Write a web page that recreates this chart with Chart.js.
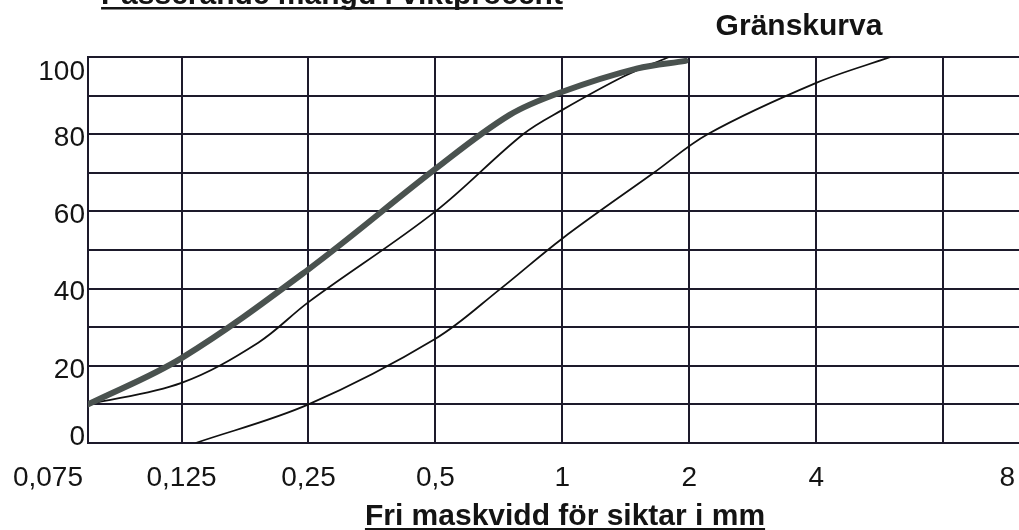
<!DOCTYPE html>
<html>
<head>
<meta charset="utf-8">
<script src="https://cdn.jsdelivr.net/npm/chart.js@4/dist/chart.umd.min.js"></script>
<style>
    body { margin: 0; background: #fff; }
    #wrap { width: 1019px; height: 530px; position: relative; }
</style>
</head>
<body>
<div id="wrap"><canvas id="myChart"></canvas></div>
<script>
// siktar (mm) och etiketter
var sieves = [0.075, 0.125, 0.25, 0.5, 1, 2, 4, 8];
var sieveLabels = ['0,075', '0,125', '0,25', '0,5', '1', '2', '4', '8'];
var percentTicks = [0, 20, 40, 60, 80, 100];

// tjock kurva - materialets siktkurva
var materialSize = [0.075, 0.125, 0.25, 0.5, 0.75, 1, 1.5, 1.96];
var materialPass = [10, 22, 45, 71, 85, 91, 97, 99];

// gränskurvor
var upperSize = [0.075, 0.125, 0.19, 0.25, 0.5, 0.807, 1, 1.4, 1.79];
var upperPass = [10, 15.6, 26, 36.5, 60, 80, 86.3, 95, 100];

var lowerSize = [0.135, 0.25, 0.5, 0.714, 1, 1.647, 2.21, 4, 6];
var lowerPass = [0, 10, 27, 40, 53, 70, 80, 93.3, 100];

var gridColor = '#1d1a2b';
var textColor = '#141414';
var tickFont = '28px "Liberation Sans", Arial, sans-serif';
var boldFont = 'bold 30px "Liberation Sans", Arial, sans-serif';

function points(sizes, pass) {
    return sizes.map(function (s, i) { return { x: s, y: pass[i] }; });
}

function underlined(ctx, text, x, y) {
    ctx.textAlign = 'center';
    ctx.fillText(text, x, y);
    var w = ctx.measureText(text).width;
    ctx.fillRect(x - w / 2, y + 3, w, 2.5);
}

var textPlugin = {
    id: 'texter',
    afterDraw: function (chart) {
        var ctx = chart.ctx;
        var area = chart.chartArea;
        var xs = chart.scales.x;
        var ys = chart.scales.y;
        ctx.save();
        ctx.fillStyle = textColor;

        // y-etiketter
        ctx.font = tickFont;
        ctx.textAlign = 'right';
        ctx.textBaseline = 'middle';
        percentTicks.forEach(function (v) {
            var y = ys.getPixelForValue(v) + 4;
            y = Math.min(Math.max(y, area.top + 15), area.bottom - 6);
            ctx.fillText(String(v), area.left - 3, y);
        });

        // x-etiketter
        ctx.textBaseline = 'alphabetic';
        sieves.forEach(function (v, i) {
            var x = xs.getPixelForValue(v);
            if (i === 0) {
                ctx.textAlign = 'right';
                x = area.left - 5;
            } else if (i === sieves.length - 1) {
                ctx.textAlign = 'right';
                x = area.right - 4;
            } else {
                ctx.textAlign = 'center';
            }
            ctx.fillText(sieveLabels[i], x, area.bottom + 43);
        });

        // rubriker
        ctx.font = boldFont;
        underlined(ctx, 'Passerande mängd i viktprocent', 332, 4);
        ctx.textAlign = 'center';
        ctx.fillText('Gränskurva', 799, 35);
        underlined(ctx, 'Fri maskvidd för siktar i mm', 565, 525);
        ctx.restore();
    }
};

var ctx = document.getElementById('myChart');

var data = {
    datasets: [
        {
            label: 'Material',
            data: points(materialSize, materialPass),
            borderColor: '#4a524f',
            borderWidth: 6,
            pointRadius: 0,
            tension: 0.35,
            borderCapStyle: 'round'
        },
        {
            label: 'Gränskurva övre',
            data: points(upperSize, upperPass),
            borderColor: '#111111',
            borderWidth: 1.8,
            pointRadius: 0,
            tension: 0.35
        },
        {
            label: 'Gränskurva undre',
            data: points(lowerSize, lowerPass),
            borderColor: '#111111',
            borderWidth: 1.8,
            pointRadius: 0,
            tension: 0.35
        }
    ]
};

var config = {
    type: 'line',
    data: data,
    options: {
        responsive: true,
        maintainAspectRatio: false,
        animation: false,
        layout: { padding: { left: 88, right: 0, top: 57, bottom: 87 } },
        plugins: {
            legend: { display: false },
            tooltip: { enabled: false }
        },
        scales: {
            x: {
                type: 'logarithmic',
                min: 0.075,
                max: 12.1,
                afterBuildTicks: function (axis) {
                    axis.ticks = sieves.map(function (v) { return { value: v }; });
                },
                ticks: { display: false },
                grid: { color: gridColor, lineWidth: 2, drawTicks: false },
                border: { display: true, color: gridColor, width: 2 }
            },
            y: {
                min: 0,
                max: 100,
                ticks: { display: false, stepSize: 10 },
                grid: { color: gridColor, lineWidth: 2, drawTicks: false },
                border: { display: true, color: gridColor, width: 2 }
            }
        }
    },
    plugins: [textPlugin]
};

var myChart = new Chart(ctx, config);
</script>
</body>
</html>
